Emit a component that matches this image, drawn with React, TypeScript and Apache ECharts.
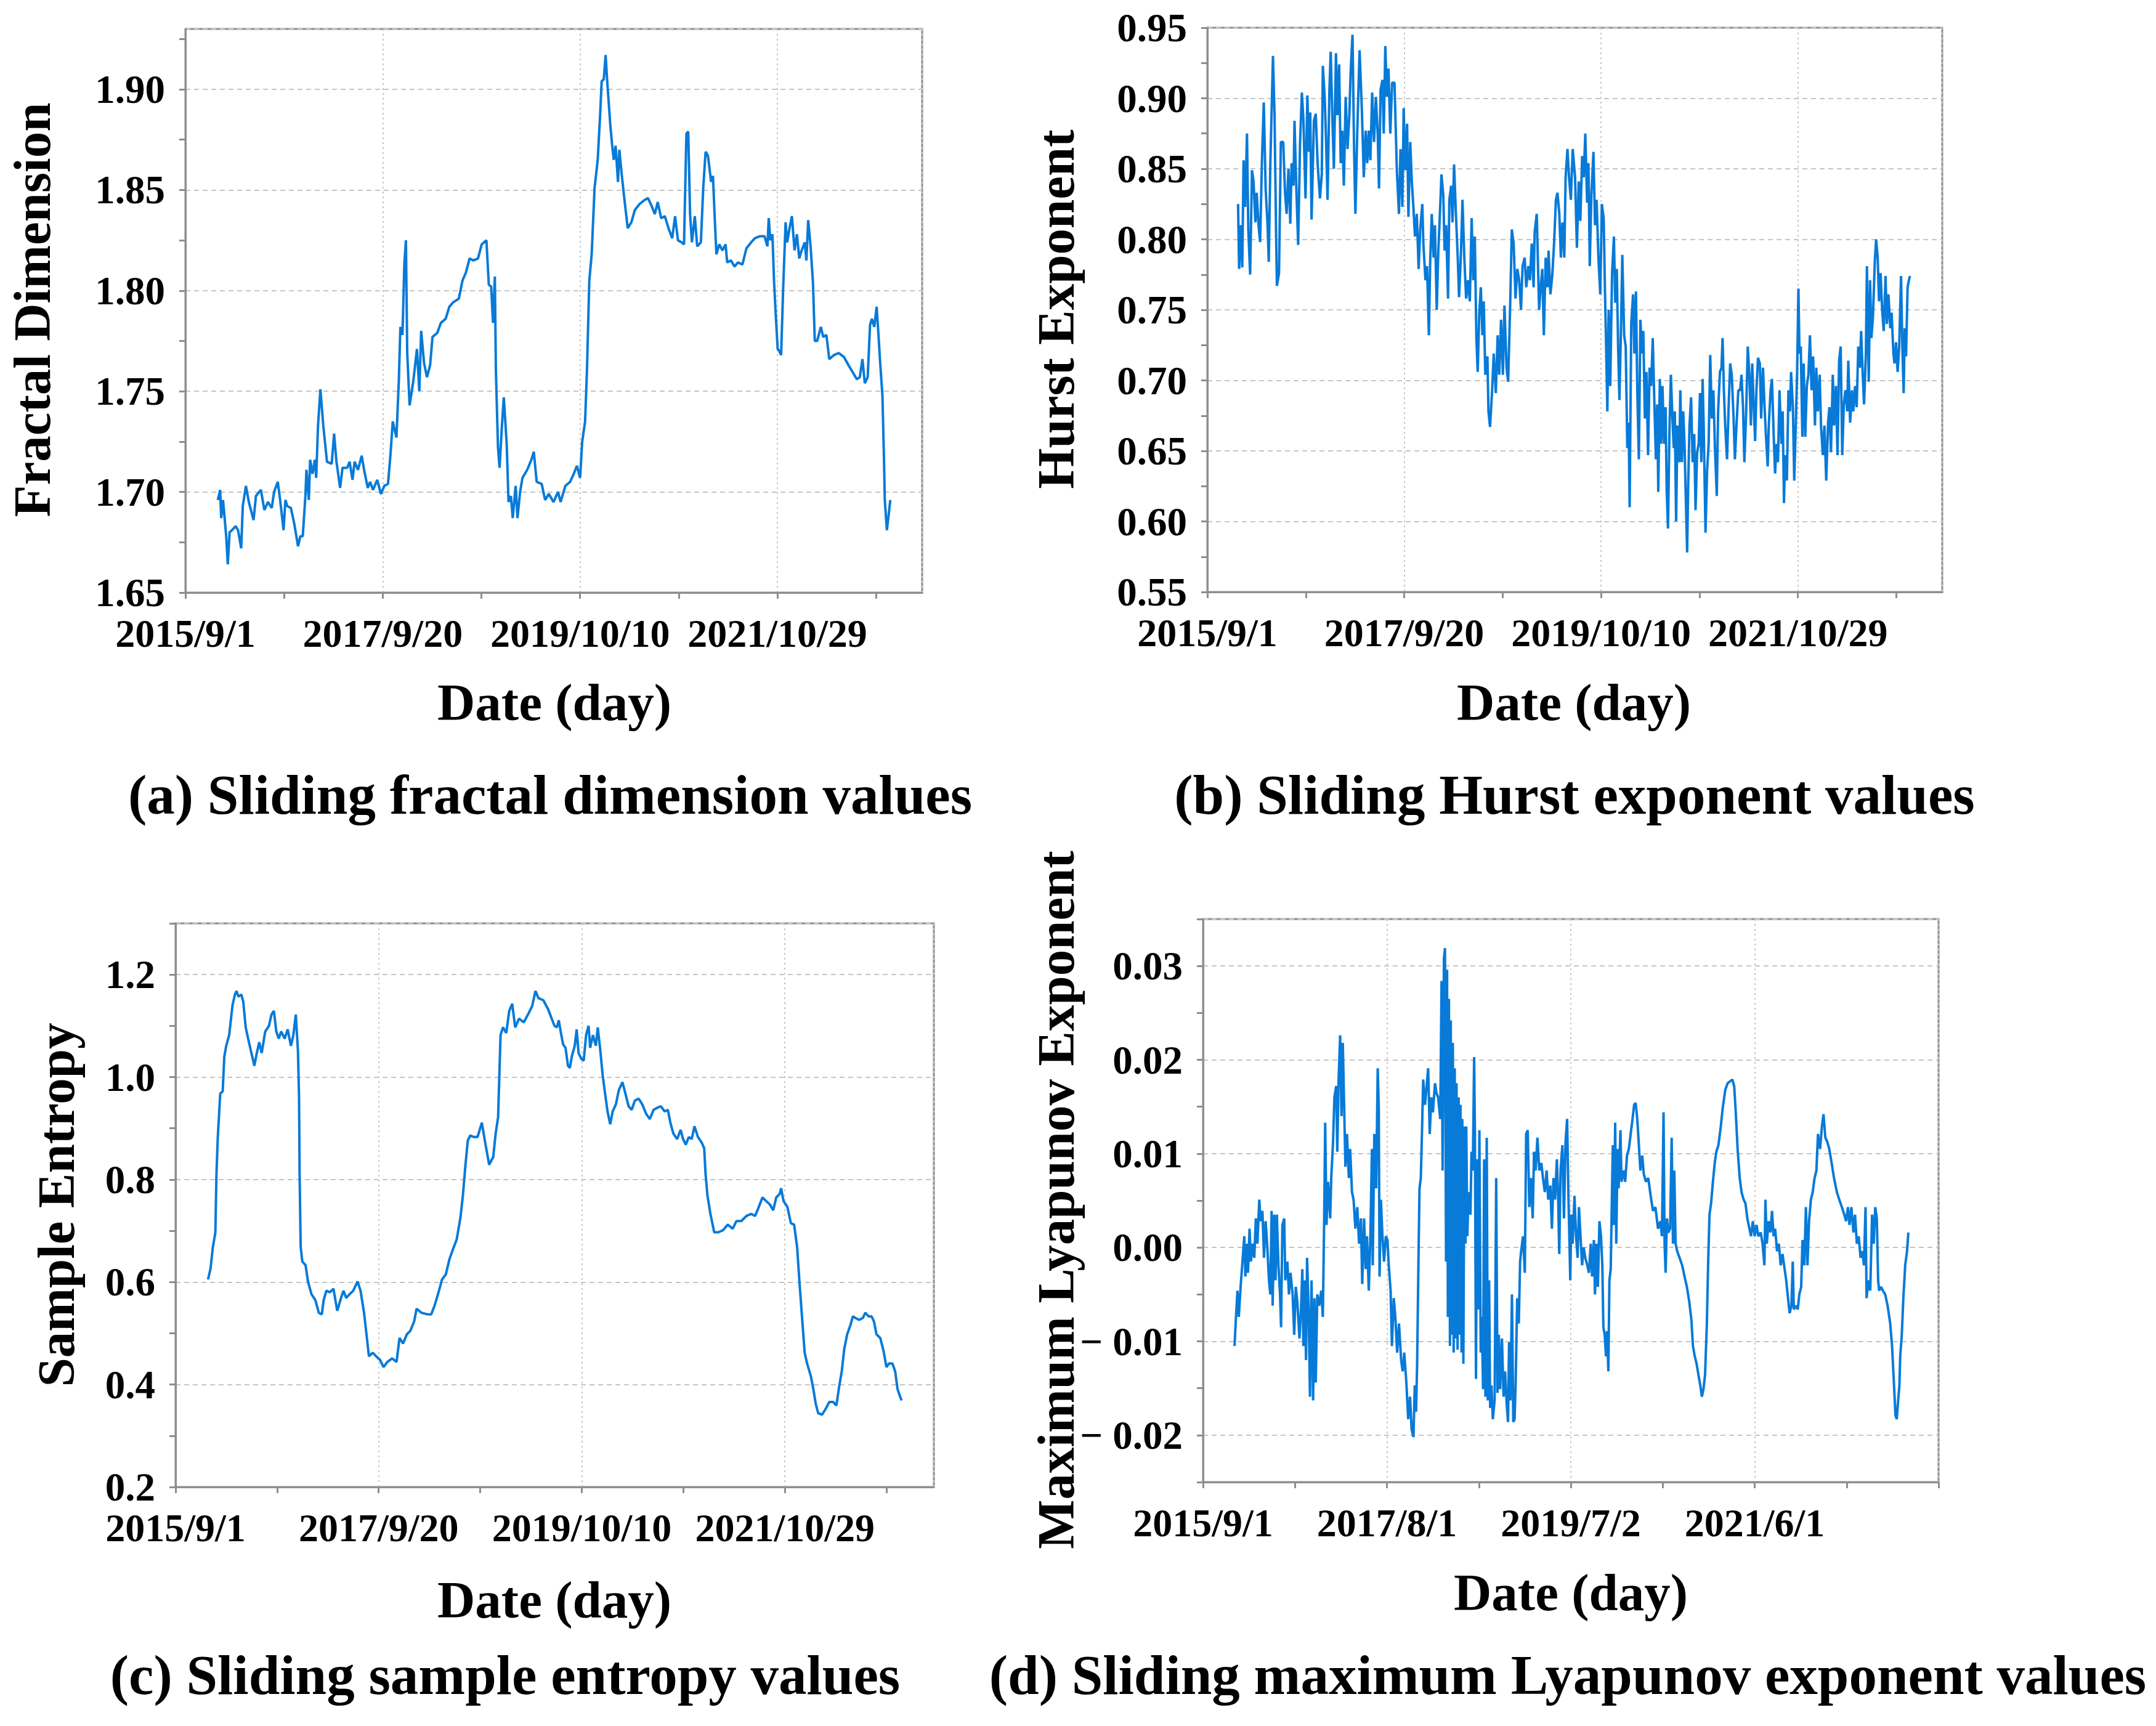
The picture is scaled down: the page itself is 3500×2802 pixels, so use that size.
import React, { useEffect, useRef } from "react";
import * as echarts from "echarts";

// ---------- axis tick data ----------
const DAY_MAX = 2800;
const dateTickDays = [0, 750, 1500, 2250];
const dateTickLabels = ["2015/9/1", "2017/9/20", "2019/10/10", "2021/10/29"];
const lyapDateTickDays = [0, 700, 1400, 2100];
const lyapDateTickLabels = ["2015/9/1", "2017/8/1", "2019/7/2", "2021/6/1"];

const fractalTickValues = [1.65, 1.7, 1.75, 1.8, 1.85, 1.9];
const fractalTickLabels = ["1.65", "1.70", "1.75", "1.80", "1.85", "1.90"];
const hurstTickValues = [0.55, 0.6, 0.65, 0.7, 0.75, 0.8, 0.85, 0.9, 0.95];
const hurstTickLabels = ["0.55", "0.60", "0.65", "0.70", "0.75", "0.80", "0.85", "0.90", "0.95"];
const entropyTickValues = [0.2, 0.4, 0.6, 0.8, 1.0, 1.2];
const entropyTickLabels = ["0.2", "0.4", "0.6", "0.8", "1.0", "1.2"];
const lyapTickValues = [-0.02, -0.01, 0, 0.01, 0.02, 0.03];
const lyapTickLabels = ["\u2212 0.02", "\u2212 0.01", "0.00", "0.01", "0.02", "0.03"];

// ---------- series data: [day index, value] ----------
const fractalSeries: [number, number][] = [
  [123,1.696],[132,1.701],[136,1.687],[143,1.696],[155,1.678],[161,1.664],[168,1.680],[177,1.681],[191,1.683],[200,1.681],
  [212,1.672],[218,1.693],[230,1.703],[241,1.695],[259,1.686],[268,1.698],[287,1.701],[300,1.691],[314,1.695],[328,1.692],
  [337,1.700],[351,1.705],[360,1.696],[373,1.681],[380,1.696],[387,1.693],[401,1.692],[414,1.684],[428,1.673],[437,1.678],
  [446,1.678],[456,1.698],[460,1.711],[469,1.696],[474,1.716],[483,1.709],[492,1.716],[497,1.707],[504,1.733],[513,1.751],
  [524,1.733],[538,1.715],[556,1.714],[565,1.729],[574,1.715],[588,1.702],[597,1.712],[615,1.712],[624,1.715],[635,1.706],
  [643,1.715],[656,1.711],[670,1.718],[679,1.711],[693,1.702],[702,1.705],[713,1.701],[729,1.706],[743,1.699],[756,1.703],
  [770,1.704],[779,1.718],[788,1.735],[802,1.727],[811,1.755],[817,1.782],[825,1.778],[832,1.813],[838,1.825],[843,1.769],
  [852,1.743],[866,1.755],[880,1.771],[889,1.750],[896,1.780],[907,1.764],[918,1.757],[930,1.763],[939,1.777],[957,1.779],
  [971,1.784],[989,1.786],[1003,1.792],[1016,1.794],[1039,1.796],[1053,1.805],[1066,1.809],[1080,1.816],[1094,1.815],[1112,1.816],
  [1126,1.823],[1144,1.825],[1153,1.803],[1162,1.802],[1169,1.784],[1176,1.807],[1180,1.760],[1188,1.722],[1194,1.712],[1203,1.733],
  [1210,1.747],[1221,1.724],[1228,1.695],[1237,1.698],[1244,1.687],[1255,1.703],[1262,1.687],[1272,1.700],[1281,1.707],[1299,1.711],
  [1315,1.716],[1324,1.720],[1335,1.705],[1354,1.704],[1367,1.696],[1381,1.699],[1399,1.695],[1416,1.700],[1426,1.695],[1444,1.703],
  [1462,1.705],[1476,1.709],[1488,1.713],[1500,1.707],[1508,1.725],[1519,1.735],[1526,1.760],[1535,1.805],[1544,1.818],[1555,1.851],
  [1567,1.865],[1576,1.887],[1582,1.904],[1590,1.905],[1597,1.917],[1603,1.904],[1615,1.882],[1622,1.872],[1628,1.865],[1635,1.872],
  [1644,1.854],[1649,1.870],[1658,1.858],[1667,1.847],[1681,1.831],[1695,1.834],[1708,1.840],[1726,1.843],[1745,1.845],[1758,1.846],
  [1772,1.842],[1784,1.838],[1795,1.844],[1808,1.836],[1822,1.837],[1836,1.831],[1850,1.826],[1861,1.837],[1872,1.825],[1886,1.824],
  [1895,1.823],[1904,1.878],[1911,1.879],[1918,1.838],[1925,1.824],[1936,1.837],[1945,1.822],[1959,1.824],[1968,1.851],[1977,1.869],
  [1986,1.867],[1998,1.854],[2005,1.857],[2011,1.838],[2018,1.818],[2029,1.823],[2041,1.820],[2053,1.823],[2059,1.814],[2073,1.815],
  [2087,1.812],[2100,1.814],[2117,1.813],[2132,1.821],[2150,1.824],[2164,1.826],[2182,1.827],[2201,1.827],[2212,1.822],[2217,1.836],
  [2223,1.825],[2231,1.828],[2237,1.805],[2244,1.787],[2251,1.771],[2257,1.770],[2264,1.768],[2272,1.802],[2281,1.834],[2287,1.824],
  [2296,1.831],[2305,1.837],[2315,1.820],[2324,1.828],[2333,1.816],[2342,1.820],[2354,1.824],[2360,1.815],[2367,1.835],[2376,1.822],
  [2385,1.804],[2392,1.775],[2401,1.775],[2415,1.782],[2424,1.777],[2436,1.778],[2447,1.766],[2465,1.768],[2483,1.769],[2503,1.767],
  [2520,1.763],[2538,1.759],[2552,1.756],[2563,1.757],[2573,1.766],[2582,1.754],[2593,1.757],[2602,1.783],[2609,1.786],[2618,1.782],
  [2627,1.792],[2634,1.778],[2640,1.765],[2649,1.748],[2655,1.716],[2658,1.696],[2666,1.681],[2673,1.689],[2679,1.696],
];

const hurstSeries: [number, number][] = [
  [117,0.825],[121,0.779],[128,0.810],[133,0.780],[138,0.856],[144,0.823],[151,0.875],[156,0.807],[163,0.775],[170,0.849],
  [176,0.841],[183,0.812],[188,0.833],[195,0.810],[201,0.798],[208,0.856],[215,0.897],[222,0.836],[229,0.812],[234,0.784],
  [240,0.854],[250,0.930],[256,0.888],[262,0.802],[265,0.767],[273,0.776],[280,0.869],[289,0.869],[296,0.833],[302,0.818],
  [309,0.850],[316,0.811],[321,0.854],[328,0.838],[332,0.884],[339,0.836],[346,0.796],[353,0.867],[360,0.904],[366,0.885],
  [374,0.829],[381,0.902],[387,0.862],[392,0.890],[397,0.814],[406,0.884],[413,0.889],[420,0.854],[429,0.829],[436,0.846],
  [440,0.923],[447,0.901],[452,0.872],[458,0.828],[465,0.906],[470,0.933],[476,0.888],[482,0.850],[490,0.932],[495,0.888],
  [502,0.924],[508,0.854],[514,0.877],[520,0.838],[527,0.901],[534,0.864],[541,0.888],[546,0.919],[553,0.945],[559,0.864],
  [564,0.818],[571,0.875],[580,0.934],[589,0.890],[596,0.844],[603,0.877],[609,0.854],[615,0.877],[621,0.856],[628,0.904],
  [635,0.869],[642,0.901],[649,0.875],[654,0.836],[660,0.906],[667,0.913],[672,0.875],[678,0.937],[684,0.901],[690,0.921],
  [697,0.875],[704,0.911],[713,0.911],[722,0.849],[730,0.818],[736,0.864],[743,0.823],[748,0.893],[754,0.849],[761,0.882],
  [766,0.816],[773,0.869],[779,0.841],[785,0.823],[791,0.802],[798,0.818],[805,0.779],[811,0.807],[819,0.825],[823,0.797],
  [831,0.771],[837,0.781],[844,0.732],[849,0.784],[855,0.818],[862,0.787],[867,0.810],[874,0.750],[880,0.792],[886,0.818],
  [892,0.846],[899,0.831],[904,0.792],[910,0.810],[917,0.758],[922,0.828],[929,0.838],[934,0.812],[940,0.853],[947,0.818],
  [954,0.787],[959,0.759],[966,0.789],[972,0.828],[979,0.787],[986,0.758],[993,0.771],[1000,0.756],[1007,0.815],[1013,0.771],
  [1019,0.802],[1025,0.730],[1030,0.706],[1036,0.748],[1042,0.766],[1048,0.732],[1053,0.756],[1059,0.704],[1067,0.717],[1071,0.678],
  [1077,0.667],[1085,0.693],[1091,0.719],[1099,0.691],[1106,0.732],[1112,0.704],[1119,0.743],[1126,0.704],[1132,0.753],[1140,0.709],
  [1146,0.699],[1154,0.755],[1160,0.807],[1167,0.797],[1174,0.758],[1181,0.779],[1188,0.771],[1195,0.750],[1201,0.781],[1209,0.787],
  [1215,0.766],[1223,0.781],[1229,0.771],[1236,0.797],[1243,0.766],[1247,0.805],[1255,0.818],[1259,0.787],[1264,0.750],[1270,0.766],
  [1276,0.779],[1282,0.732],[1289,0.787],[1296,0.766],[1300,0.792],[1307,0.761],[1314,0.774],[1321,0.797],[1328,0.828],[1334,0.833],
  [1341,0.818],[1347,0.787],[1353,0.812],[1360,0.787],[1365,0.844],[1372,0.864],[1378,0.844],[1385,0.828],[1392,0.864],[1401,0.844],
  [1408,0.794],[1415,0.841],[1421,0.813],[1428,0.859],[1434,0.844],[1440,0.875],[1447,0.826],[1452,0.854],[1457,0.781],[1463,0.831],
  [1471,0.862],[1477,0.810],[1483,0.828],[1490,0.787],[1497,0.761],[1503,0.825],[1510,0.815],[1515,0.763],[1519,0.727],[1524,0.678],
  [1529,0.750],[1535,0.696],[1542,0.776],[1549,0.802],[1554,0.755],[1560,0.779],[1565,0.724],[1570,0.686],[1576,0.737],[1581,0.789],
  [1588,0.732],[1594,0.724],[1600,0.652],[1605,0.670],[1609,0.610],[1615,0.740],[1622,0.761],[1627,0.719],[1633,0.763],[1638,0.693],
  [1644,0.644],[1650,0.743],[1656,0.719],[1661,0.735],[1667,0.673],[1673,0.706],[1679,0.647],[1685,0.709],[1691,0.696],[1697,0.730],
  [1704,0.678],[1709,0.644],[1714,0.683],[1718,0.621],[1724,0.701],[1729,0.655],[1734,0.696],[1740,0.655],[1746,0.681],[1750,0.623],
  [1755,0.595],[1761,0.668],[1766,0.704],[1772,0.673],[1777,0.652],[1781,0.678],[1786,0.600],[1791,0.668],[1798,0.642],[1802,0.693],
  [1808,0.642],[1813,0.678],[1818,0.655],[1823,0.616],[1828,0.578],[1832,0.626],[1837,0.668],[1843,0.688],[1849,0.642],[1855,0.662],
  [1860,0.608],[1866,0.649],[1872,0.655],[1877,0.691],[1882,0.642],[1887,0.701],[1891,0.668],[1898,0.592],[1904,0.636],[1910,0.655],
  [1916,0.718],[1922,0.673],[1928,0.693],[1934,0.652],[1941,0.618],[1946,0.678],[1953,0.706],[1959,0.709],[1963,0.730],[1968,0.693],
  [1973,0.668],[1980,0.644],[1986,0.681],[1992,0.712],[1998,0.704],[2005,0.673],[2010,0.644],[2016,0.668],[2023,0.693],[2030,0.693],
  [2035,0.704],[2041,0.681],[2046,0.642],[2053,0.678],[2059,0.724],[2065,0.704],[2071,0.668],[2076,0.712],[2082,0.681],[2087,0.657],
  [2092,0.693],[2098,0.716],[2105,0.712],[2110,0.673],[2117,0.709],[2123,0.681],[2128,0.662],[2135,0.639],[2139,0.668],[2146,0.693],
  [2151,0.701],[2158,0.660],[2163,0.634],[2169,0.655],[2174,0.642],[2180,0.693],[2187,0.655],[2192,0.678],[2197,0.613],[2201,0.647],
  [2208,0.629],[2214,0.693],[2220,0.678],[2224,0.706],[2231,0.681],[2236,0.629],[2242,0.668],[2247,0.706],[2252,0.765],[2256,0.719],
  [2261,0.724],[2267,0.660],[2272,0.712],[2278,0.660],[2284,0.696],[2290,0.704],[2296,0.732],[2302,0.693],[2308,0.717],[2315,0.668],
  [2320,0.709],[2326,0.678],[2333,0.704],[2338,0.668],[2345,0.647],[2351,0.668],[2358,0.629],[2365,0.670],[2370,0.681],[2376,0.649],
  [2383,0.704],[2388,0.668],[2395,0.696],[2401,0.647],[2407,0.714],[2413,0.724],[2419,0.647],[2425,0.683],[2431,0.693],[2438,0.678],
  [2442,0.714],[2449,0.670],[2456,0.693],[2461,0.678],[2468,0.696],[2474,0.681],[2480,0.724],[2486,0.709],[2491,0.735],[2497,0.704],
  [2502,0.683],[2509,0.719],[2513,0.781],[2520,0.699],[2525,0.771],[2530,0.730],[2536,0.745],[2543,0.784],[2548,0.800],[2554,0.787],
  [2559,0.756],[2565,0.776],[2571,0.750],[2577,0.735],[2584,0.774],[2589,0.740],[2595,0.761],[2602,0.737],[2607,0.748],[2614,0.719],
  [2618,0.712],[2624,0.727],[2630,0.706],[2636,0.724],[2643,0.774],[2648,0.724],[2653,0.691],[2657,0.737],[2662,0.717],[2668,0.766],
  [2673,0.771],[2677,0.774],
];

const entropySeries: [number, number][] = [
  [120,0.605],[129,0.626],[138,0.669],[147,0.697],[151,0.811],[156,0.883],[165,0.968],[174,0.972],[180,1.040],[187,1.061],
  [198,1.082],[210,1.139],[219,1.161],[225,1.168],[232,1.157],[243,1.161],[250,1.147],[259,1.097],[268,1.075],[277,1.054],
  [291,1.022],[300,1.047],[309,1.068],[318,1.047],[331,1.089],[345,1.100],[354,1.122],[363,1.129],[372,1.089],[381,1.075],
  [390,1.089],[403,1.075],[414,1.093],[426,1.061],[435,1.082],[444,1.122],[452,1.050],[456,0.960],[458,0.811],[462,0.669],
  [468,0.640],[480,0.633],[489,0.601],[502,0.576],[516,0.565],[529,0.540],[540,0.537],[547,0.565],[557,0.583],[570,0.580],
  [583,0.587],[597,0.544],[611,0.569],[620,0.583],[630,0.569],[642,0.576],[656,0.583],[672,0.601],[683,0.583],[696,0.540],
  [705,0.498],[714,0.455],[728,0.462],[741,0.455],[755,0.448],[768,0.434],[782,0.444],[800,0.451],[816,0.444],[827,0.491],
  [840,0.480],[854,0.498],[867,0.505],[881,0.523],[890,0.548],[908,0.540],[930,0.537],[944,0.537],[957,0.555],[971,0.580],
  [984,0.605],[998,0.615],[1011,0.644],[1025,0.665],[1038,0.683],[1052,0.726],[1061,0.769],[1070,0.826],[1079,0.876],[1088,0.886],
  [1101,0.883],[1115,0.883],[1131,0.911],[1142,0.876],[1158,0.829],[1173,0.844],[1182,0.890],[1191,0.922],[1200,1.082],[1209,1.097],
  [1221,1.086],[1232,1.129],[1243,1.143],[1254,1.097],[1268,1.114],[1286,1.107],[1304,1.125],[1317,1.139],[1329,1.168],[1340,1.154],
  [1358,1.150],[1376,1.132],[1389,1.114],[1399,1.100],[1408,1.097],[1415,1.111],[1422,1.089],[1431,1.064],[1440,1.057],[1449,1.022],
  [1456,1.018],[1463,1.040],[1474,1.061],[1481,1.093],[1488,1.047],[1498,1.036],[1507,1.032],[1516,1.082],[1525,1.100],[1531,1.057],
  [1541,1.082],[1552,1.061],[1559,1.097],[1568,1.054],[1577,1.004],[1586,0.968],[1595,0.933],[1605,0.908],[1614,0.933],[1626,0.947],
  [1637,0.975],[1650,0.990],[1659,0.972],[1673,0.943],[1684,0.936],[1696,0.954],[1710,0.958],[1723,0.947],[1737,0.929],[1751,0.918],
  [1765,0.936],[1778,0.940],[1792,0.943],[1806,0.933],[1818,0.936],[1827,0.911],[1838,0.890],[1852,0.879],[1865,0.897],[1874,0.879],
  [1884,0.868],[1895,0.883],[1906,0.879],[1916,0.904],[1929,0.883],[1943,0.872],[1952,0.861],[1957,0.811],[1964,0.769],[1975,0.733],
  [1989,0.697],[2003,0.697],[2021,0.701],[2039,0.712],[2057,0.704],[2071,0.719],[2089,0.719],[2108,0.729],[2126,0.733],[2140,0.729],
  [2154,0.747],[2167,0.765],[2181,0.758],[2195,0.751],[2207,0.740],[2218,0.765],[2231,0.772],[2236,0.783],[2245,0.758],[2259,0.747],
  [2272,0.715],[2284,0.712],[2295,0.669],[2304,0.598],[2314,0.526],[2323,0.462],[2332,0.441],[2346,0.416],[2355,0.391],[2364,0.362],
  [2373,0.344],[2387,0.341],[2400,0.352],[2414,0.366],[2428,0.366],[2440,0.359],[2451,0.398],[2460,0.426],[2469,0.469],[2480,0.498],
  [2492,0.516],[2501,0.533],[2510,0.530],[2524,0.526],[2538,0.530],[2547,0.540],[2559,0.533],[2570,0.533],[2579,0.523],[2588,0.498],
  [2602,0.491],[2614,0.466],[2625,0.434],[2634,0.441],[2647,0.441],[2657,0.426],[2666,0.391],[2675,0.377],[2681,0.369],
];

const lyapunovSeries: [number, number][] = [
  [120,-0.0105],[124,-0.0081],[131,-0.0046],[136,-0.0074],[143,-0.0042],[149,-0.0019],[157,0.0012],[161,-0.0031],[166,0.0004],[171,-0.0027],
  [177,0.0020],[182,-0.0015],[189,0.0004],[195,-0.0011],[201,0.0031],[207,0.0004],[214,0.0051],[219,0.0028],[226,0.0039],[232,-0.0011],
  [238,0.0028],[244,0.0004],[251,-0.0035],[256,-0.0050],[261,0.0039],[265,-0.0062],[271,0.0035],[276,-0.0035],[281,0.0035],[287,-0.0019],
  [293,-0.0050],[297,-0.0085],[302,0.0024],[309,0.0031],[313,-0.0035],[321,-0.0015],[327,-0.0050],[333,-0.0027],[341,-0.0050],[347,-0.0093],
  [353,-0.0042],[359,-0.0058],[367,-0.0097],[373,-0.0066],[378,-0.0023],[382,-0.0105],[387,-0.0035],[392,-0.0120],[396,-0.0011],[402,-0.0066],
  [407,-0.0159],[413,-0.0035],[419,-0.0163],[424,-0.0054],[429,-0.0144],[435,-0.0050],[442,-0.0062],[450,-0.0046],[456,-0.0074],[461,0.0028],
  [465,0.0133],[470,0.0024],[476,0.0070],[484,0.0031],[488,0.0074],[495,0.0113],[500,0.0160],[507,0.0172],[511,0.0102],[516,0.0179],
  [522,0.0226],[527,0.0140],[532,0.0218],[537,0.0152],[542,0.0086],[548,0.0121],[555,0.0074],[560,0.0105],[567,0.0059],[573,0.0051],
  [580,0.0020],[587,0.0043],[594,0.0004],[601,0.0031],[606,-0.0039],[613,0.0031],[619,-0.0023],[624,0.0012],[631,-0.0046],[637,0.0012],
  [643,0.0105],[646,-0.0019],[652,0.0121],[659,0.0063],[665,0.0191],[669,0.0148],[672,-0.0031],[677,0.0051],[683,0.0012],[689,-0.0015],
  [696,0.0012],[702,0.0008],[707,-0.0019],[714,-0.0046],[719,-0.0105],[726,-0.0054],[732,-0.0074],[739,-0.0112],[746,-0.0081],[754,-0.0120],
  [760,-0.0132],[766,-0.0112],[774,-0.0144],[781,-0.0183],[788,-0.0159],[794,-0.0194],[801,-0.0202],[806,-0.0147],[811,-0.0175],[815,-0.0124],
  [820,-0.0015],[824,0.0063],[829,0.0074],[834,0.0129],[838,0.0179],[845,0.0152],[852,0.0175],[857,0.0191],[863,0.0121],[869,0.0160],
  [875,0.0144],[883,0.0175],[889,0.0164],[895,0.0160],[903,0.0137],[908,0.0284],[912,0.0082],[917,0.0308],[921,0.0319],[925,-0.0015],
  [929,0.0296],[932,-0.0074],[936,0.0265],[940,-0.0105],[943,0.0242],[947,-0.0093],[951,0.0218],[954,-0.0112],[958,0.0191],[962,-0.0097],
  [965,0.0175],[969,-0.0109],[973,0.0160],[976,-0.0093],[980,0.0152],[984,-0.0112],[987,0.0137],[991,-0.0124],[995,0.0129],[999,0.0004],
  [1002,0.0129],[1006,0.0012],[1011,0.0059],[1018,0.0035],[1022,0.0102],[1027,0.0082],[1032,0.0203],[1035,0.0121],[1039,-0.0140],[1043,0.0094],
  [1047,-0.0066],[1052,0.0125],[1057,-0.0112],[1061,-0.0074],[1066,-0.0151],[1070,0.0094],[1075,-0.0159],[1080,0.0117],[1084,-0.0163],[1089,-0.0035],
  [1093,-0.0171],[1098,-0.0147],[1103,-0.0183],[1110,-0.0163],[1116,0.0074],[1121,-0.0155],[1126,-0.0093],[1131,-0.0151],[1138,-0.0097],[1144,-0.0159],
  [1150,-0.0132],[1156,-0.0167],[1161,-0.0186],[1165,-0.0101],[1170,-0.0163],[1176,-0.0050],[1181,-0.0186],[1186,-0.0183],[1190,-0.0144],[1196,-0.0054],
  [1202,-0.0081],[1207,-0.0015],[1211,-0.0004],[1218,0.0012],[1225,-0.0027],[1230,0.0121],[1236,0.0125],[1242,0.0043],[1248,0.0074],[1255,0.0031],
  [1260,0.0102],[1266,0.0082],[1273,0.0117],[1280,0.0082],[1288,0.0090],[1294,0.0074],[1301,0.0059],[1308,0.0082],[1314,0.0051],[1322,0.0066],
  [1328,0.0020],[1334,0.0074],[1340,0.0051],[1347,0.0094],[1352,0.0051],[1356,-0.0007],[1361,0.0082],[1368,0.0109],[1374,0.0031],[1380,0.0113],
  [1386,0.0137],[1391,0.0055],[1398,-0.0035],[1402,0.0035],[1407,0.0004],[1414,0.0055],[1420,0.0012],[1426,-0.0011],[1431,0.0043],[1437,0.0012],
  [1443,-0.0019],[1449,0.0000],[1455,-0.0011],[1463,-0.0019],[1469,-0.0027],[1476,0.0004],[1481,-0.0031],[1488,0.0008],[1492,-0.0050],[1498,0.0004],
  [1503,-0.0042],[1509,0.0028],[1515,0.0012],[1520,-0.0019],[1524,-0.0085],[1529,-0.0093],[1534,-0.0116],[1538,-0.0089],[1543,-0.0132],[1547,-0.0035],
  [1552,-0.0023],[1557,0.0063],[1560,0.0109],[1564,0.0024],[1569,0.0133],[1573,0.0004],[1578,0.0105],[1582,0.0063],[1589,0.0125],[1593,0.0070],
  [1601,0.0082],[1607,0.0070],[1614,0.0098],[1621,0.0105],[1628,0.0121],[1635,0.0137],[1641,0.0152],[1647,0.0154],[1653,0.0137],[1660,0.0105],
  [1665,0.0082],[1672,0.0098],[1678,0.0078],[1686,0.0070],[1695,0.0074],[1704,0.0055],[1713,0.0039],[1722,0.0043],[1732,0.0020],[1741,0.0028],
  [1747,0.0012],[1753,0.0144],[1757,0.0004],[1761,-0.0027],[1766,0.0031],[1771,0.0016],[1778,0.0020],[1784,0.0117],[1789,0.0004],[1794,0.0082],
  [1799,0.0004],[1805,-0.0004],[1814,-0.0011],[1824,-0.0019],[1833,-0.0031],[1842,-0.0042],[1851,-0.0058],[1859,-0.0077],[1865,-0.0105],[1872,-0.0116],
  [1879,-0.0124],[1886,-0.0136],[1893,-0.0147],[1899,-0.0159],[1905,-0.0151],[1911,-0.0136],[1918,-0.0081],[1923,-0.0015],[1928,0.0035],[1934,0.0047],
  [1941,0.0070],[1948,0.0090],[1954,0.0102],[1962,0.0109],[1971,0.0129],[1978,0.0148],[1988,0.0168],[1997,0.0175],[2006,0.0177],[2015,0.0179],
  [2022,0.0172],[2028,0.0144],[2035,0.0105],[2043,0.0074],[2050,0.0059],[2058,0.0051],[2065,0.0047],[2072,0.0031],[2080,0.0020],[2086,0.0012],
  [2093,0.0028],[2100,0.0012],[2107,0.0024],[2114,0.0012],[2123,0.0016],[2130,0.0004],[2137,-0.0019],[2141,0.0051],[2146,0.0004],[2153,0.0028],
  [2160,0.0016],[2166,0.0039],[2172,0.0012],[2178,0.0020],[2185,-0.0004],[2192,0.0004],[2199,-0.0019],[2206,-0.0007],[2212,-0.0019],[2220,-0.0035],
  [2227,-0.0054],[2233,-0.0070],[2240,-0.0062],[2245,-0.0015],[2249,-0.0066],[2257,-0.0062],[2264,-0.0066],[2270,-0.0050],[2277,-0.0042],[2282,0.0008],
  [2289,-0.0019],[2295,0.0043],[2301,-0.0019],[2307,0.0028],[2314,0.0051],[2321,0.0059],[2328,0.0074],[2335,0.0082],[2341,0.0121],[2349,0.0105],
  [2356,0.0129],[2362,0.0142],[2369,0.0117],[2376,0.0113],[2384,0.0105],[2393,0.0090],[2402,0.0074],[2413,0.0059],[2422,0.0051],[2432,0.0043],
  [2441,0.0035],[2448,0.0028],[2455,0.0043],[2461,0.0024],[2468,0.0043],[2476,0.0016],[2482,0.0035],[2489,0.0004],[2496,0.0012],[2503,-0.0011],
  [2510,-0.0004],[2516,-0.0019],[2522,0.0043],[2526,-0.0054],[2533,-0.0035],[2540,-0.0046],[2547,0.0035],[2553,0.0004],[2559,0.0043],[2565,0.0031],
  [2570,-0.0035],[2574,-0.0046],[2581,-0.0042],[2588,-0.0046],[2597,-0.0050],[2606,-0.0062],[2616,-0.0081],[2623,-0.0105],[2630,-0.0144],[2636,-0.0179],
  [2641,-0.0183],[2645,-0.0167],[2651,-0.0147],[2654,-0.0116],[2660,-0.0093],[2666,-0.0054],[2673,-0.0019],[2680,-0.0004],[2685,0.0016],
];

// ---------- styling ----------
const LINE_COLOR = "#087ad8";
const FRAME_COLOR = "#8e8e8e";
const GRID_COLOR = "#c6c6c6";
const FONT = "'Liberation Serif', 'Times New Roman', serif";

const pickLabel = (values: number[], labels: string[]) => (v: number) => {
  const i = values.findIndex((t) => Math.abs(t - v) < 1e-9);
  return i >= 0 ? labels[i] : "";
};

interface Panel {
  box: { left: number; top: number; width: number; height: number };
  data: [number, number][];
  yMin: number;
  yMax: number;
  yInterval: number | null;
  yMinor: number;
  yVals: number[];
  yLabels: string[];
  xInterval: number;
  xMinor: number;
  xVals: number[];
  xLabels: string[];
  yTitle: string;
  yTitlePos: [number, number];
  xTitlePos: [number, number];
  caption: string;
  captionPos: [number, number];
}

const panels: Panel[] = [
  {
    box: { left: 301, top: 47, width: 1196, height: 915 },
    data: fractalSeries, yMin: 1.65, yMax: 1.93, yInterval: 0.05, yMinor: 0.025,
    yVals: fractalTickValues, yLabels: fractalTickLabels,
    xInterval: 750, xMinor: 375, xVals: dateTickDays, xLabels: dateTickLabels,
    yTitle: "Fractal Dimension", yTitlePos: [52, 503], xTitlePos: [900, 1140],
    caption: "(a) Sliding fractal dimension values", captionPos: [893, 1290],
  },
  {
    box: { left: 1960, top: 45, width: 1193, height: 916 },
    data: hurstSeries, yMin: 0.55, yMax: 0.95, yInterval: 0.05, yMinor: 0.025,
    yVals: hurstTickValues, yLabels: hurstTickLabels,
    xInterval: 750, xMinor: 375, xVals: dateTickDays, xLabels: dateTickLabels,
    yTitle: "Hurst Exponent", yTitlePos: [1714, 502], xTitlePos: [2555, 1140],
    caption: "(b) Sliding Hurst exponent values", captionPos: [2556, 1290],
  },
  {
    box: { left: 285, top: 1499, width: 1231, height: 915 },
    data: entropySeries, yMin: 0.2, yMax: 1.3, yInterval: 0.2, yMinor: 0.1,
    yVals: entropyTickValues, yLabels: entropyTickLabels,
    xInterval: 750, xMinor: 375, xVals: dateTickDays, xLabels: dateTickLabels,
    yTitle: "Sample Entropy", yTitlePos: [91, 1956], xTitlePos: [900, 2597],
    caption: "(c) Sliding sample entropy values", captionPos: [820, 2719],
  },
  {
    box: { left: 1953, top: 1492, width: 1194, height: 914 },
    data: lyapunovSeries, yMin: -0.025, yMax: 0.035, yInterval: null, yMinor: 0.005,
    yVals: lyapTickValues, yLabels: lyapTickLabels,
    xInterval: 700, xMinor: 350, xVals: lyapDateTickDays, xLabels: lyapDateTickLabels,
    yTitle: "Maximum Lyapunov Exponent", yTitlePos: [1714, 1948], xTitlePos: [2550, 2585],
    caption: "(d) Sliding maximum Lyapunov exponent values", captionPos: [2545, 2719],
  },
];

function buildOption() {
  const grids: any[] = [];
  const xAxes: any[] = [];
  const yAxes: any[] = [];
  const series: any[] = [];
  const graphic: any[] = [];

  const labelStyle = {
    fontFamily: FONT,
    fontWeight: "bold",
    fontSize: 64,
    color: "#000",
  };

  panels.forEach((p, i) => {
    grids[i] = {
      ...p.box,
      show: true,
      borderColor: FRAME_COLOR,
      borderWidth: 3,
      backgroundColor: "transparent",
      containLabel: false,
    };
    // tick-only grid, trimmed so that its extents are whole multiples of the minor step
    const xTickMax = Math.floor(DAY_MAX / p.xMinor + 1e-9) * p.xMinor;
    const yTickMax = Math.floor(p.yMax / p.yMinor + 1e-9) * p.yMinor;
    const ySpan = p.yMax - p.yMin;
    grids[4 + i] = {
      left: p.box.left,
      width: (p.box.width * xTickMax) / DAY_MAX,
      top: p.box.top + (p.box.height * (p.yMax - yTickMax)) / ySpan,
      height: (p.box.height * (yTickMax - p.yMin)) / ySpan,
      show: false,
      containLabel: false,
    };

    xAxes[i] = {
      type: "value",
      gridIndex: i,
      position: "bottom",
      min: 0,
      max: DAY_MAX,
      interval: p.xInterval,
      axisLine: { show: true, onZero: false, lineStyle: { color: FRAME_COLOR, width: 3 } },
      axisTick: { show: false },
      axisLabel: {
        ...labelStyle,
        margin: 34,
        showMinLabel: true,
        showMaxLabel: true,
        formatter: pickLabel(p.xVals, p.xLabels),
      },
      splitLine: { show: true, lineStyle: { color: GRID_COLOR, width: 2, type: [3, 5] } },
    };
    const yMain: any = {
      type: "value",
      gridIndex: i,
      position: "left",
      min: p.yMin,
      max: p.yMax,
      axisLine: { show: true, onZero: false, lineStyle: { color: FRAME_COLOR, width: 3 } },
      axisTick: { show: false },
      axisLabel: {
        ...labelStyle,
        fontSize: 65,
        margin: 33,
        showMinLabel: true,
        showMaxLabel: true,
        formatter: pickLabel(p.yVals, p.yLabels),
      },
      splitLine: { show: true, lineStyle: { color: GRID_COLOR, width: 2, type: [8, 6] } },
    };
    if (p.yInterval != null) yMain.interval = p.yInterval;
    else yMain.splitNumber = 6;
    yAxes[i] = yMain;

    xAxes[4 + i] = {
      type: "value",
      gridIndex: 4 + i,
      position: "bottom",
      min: 0,
      max: xTickMax,
      interval: p.xMinor,
      axisLine: { show: false, onZero: false },
      axisTick: { show: true, inside: false, length: 10, lineStyle: { color: FRAME_COLOR, width: 3 } },
      axisLabel: { show: false },
      splitLine: { show: false },
    };
    yAxes[4 + i] = {
      type: "value",
      gridIndex: 4 + i,
      position: "left",
      min: p.yMin,
      max: yTickMax,
      interval: p.yMinor,
      axisLine: { show: false, onZero: false },
      axisTick: { show: true, inside: false, length: 10, lineStyle: { color: FRAME_COLOR, width: 3 } },
      axisLabel: { show: false },
      splitLine: { show: false },
    };

    series.push({
      type: "line",
      xAxisIndex: i,
      yAxisIndex: i,
      data: p.data,
      showSymbol: false,
      symbol: "none",
      silent: true,
      lineStyle: { color: LINE_COLOR, width: 4 },
      z: 3,
    });

    graphic.push({
      type: "text",
      x: p.yTitlePos[0],
      y: p.yTitlePos[1],
      rotation: Math.PI / 2,
      style: {
        text: p.yTitle,
        fontFamily: FONT,
        fontWeight: "bold",
        fontSize: 85,
        fill: "#000",
        align: "center",
        verticalAlign: "middle",
      },
    });
    graphic.push({
      type: "text",
      x: p.xTitlePos[0],
      y: p.xTitlePos[1],
      style: {
        text: "Date (day)",
        fontFamily: FONT,
        fontWeight: "bold",
        fontSize: 85,
        fill: "#000",
        align: "center",
        verticalAlign: "middle",
      },
    });
    graphic.push({
      type: "text",
      x: p.captionPos[0],
      y: p.captionPos[1],
      style: {
        text: p.caption,
        fontFamily: FONT,
        fontWeight: "bold",
        fontSize: 91,
        fill: "#000",
        align: "center",
        verticalAlign: "middle",
      },
    });
  });

  return {
    animation: false,
    backgroundColor: "#ffffff",
    grid: grids,
    xAxis: xAxes,
    yAxis: yAxes,
    series,
    graphic,
  };
}

export default function App() {
  const ref = useRef<HTMLDivElement | null>(null);
  useEffect(() => {
    if (!ref.current) return;
    const chart = echarts.init(ref.current, undefined, { renderer: "svg" });
    chart.setOption(buildOption() as any);
    return () => chart.dispose();
  }, []);
  return (
    <div
      ref={ref}
      style={{ position: "absolute", left: 0, top: 0, width: 3500, height: 2802, background: "#fff" }}
    />
  );
}
